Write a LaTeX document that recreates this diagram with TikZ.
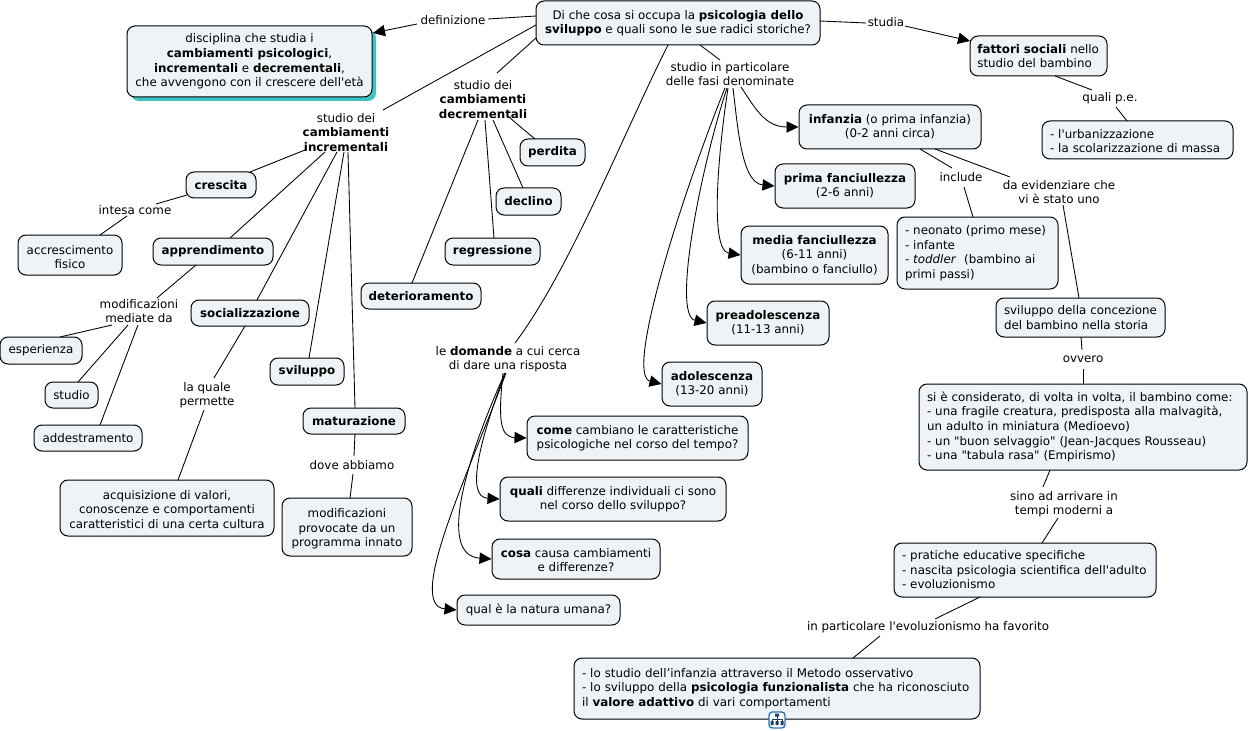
\documentclass[tikz,border=0pt]{standalone}
\usepackage{fontspec}
\setmainfont{DejaVu Sans}[Ligatures=TeXOff]
\usetikzlibrary{calc,arrows.meta,shadows}
\definecolor{boxfill}{HTML}{EDF3F6}
\definecolor{tealshade}{HTML}{3CC4C4}
\definecolor{iconblue}{HTML}{2F6FB5}
\definecolor{iconink}{HTML}{1F3F66}
\newcommand{\lowstrut}{\rule{0pt}{10pt}}
\newcommand{\midstrut}{\rule{0pt}{8.5pt}}
\tikzset{
  every node/.style={font=\fontsize{8.9}{10.9}\selectfont},
  box/.style={draw=black,line width=0.75pt,fill=boxfill,rounded corners=6pt,align=center,inner sep=0pt},
  lbox/.style={box,align=left,inner xsep=6pt,inner ysep=0pt},
  lab/.style={align=center,inner sep=0pt},
  link/.style={draw=black,line width=0.65pt},
  arr/.style={link,-{Triangle[length=9pt,width=8.5pt]}}
}
\begin{document}
\begin{tikzpicture}[x=0.75pt,y=-0.75pt]
\useasboundingbox (0,0) rectangle (1249,731);
% boxes
\node[box,minimum width=213pt,minimum height=33pt] (root) at (678,23) {Di che cosa si occupa la \textbf{psicologia dello}\\\textbf{sviluppo} e quali sono le sue radici storiche?};
\node[box,minimum width=183.75pt,minimum height=53.25pt,drop shadow={shadow xshift=3pt,shadow yshift=-3pt,opacity=1,fill=tealshade}] (def) at (249.5,61.5) {disciplina che studia i\\\textbf{cambiamenti psicologici},\\\textbf{incrementali} e \textbf{decrementali},\\che avvengono con il crescere dell'età};
\node[lbox,inner xsep=3pt,text width=96.75pt,minimum height=30pt] (fattori) at (1038.5,56) {\hspace{2.5pt}\textbf{fattori sociali} nello\\\hspace{2.5pt}studio del bambino};
\node[lbox,text width=131.25pt,minimum height=28.5pt] (urban) at (1137.5,140) {\midstrut- l'urbanizzazione\\- la scolarizzazione di massa};
\node[box,minimum width=136.5pt,minimum height=33pt] (infanzia) at (890,127) {\textbf{infanzia} (o prima infanzia)\\(0-2 anni circa)};
\node[box,minimum width=105pt,minimum height=33pt] (prima) at (845,186) {\textbf{prima fanciullezza}\\(2-6 anni)};
\node[box,minimum width=110.25pt,minimum height=43.5pt] (media) at (814.5,255) {\textbf{media fanciullezza}\\(6-11 anni)\\(bambino o fanciullo)};
\node[box,minimum width=91.5pt,minimum height=33pt] (pread) at (768,323) {\textbf{preadolescenza}\\(11-13 anni)};
\node[box,minimum width=75pt,minimum height=33pt] (adol) at (712,384) {\textbf{adolescenza}\\(13-20 anni)};
\node[lbox,text width=108.75pt,minimum height=54pt] (neonato) at (977.5,253) {- neonato (primo mese)\\- infante\\- \textit{toddler}\ \ (bambino ai\\primi passi)};
\node[lbox,text width=114.75pt,minimum height=29.25pt] (svil2) at (1080.5,317.5) {sviluppo della concezione\\del bambino nella storia};
\node[lbox,text width=234pt,minimum height=64.5pt] (si) at (1083,427) {si è considerato, di volta in volta, il bambino come:\\- una fragile creatura, predisposta alla malvagità,\\un adulto in miniatura (Medioevo)\\- un "buon selvaggio" (Jean-Jacques Rousseau)\\- una "tabula rasa" (Empirismo)};
\node[lbox,text width=184.5pt,minimum height=40.5pt] (pratiche) at (1025,570) {- pratiche educative specifiche\\- nascita psicologia scientifica dell'adulto\\- evoluzionismo};
\node[lbox,text width=292.5pt,minimum height=45.75pt] (lostudio) at (777,688.5) {- lo studio dell’infanzia attraverso il Metodo osservativo\\- lo sviluppo della \textbf{psicologia funzionalista} che ha riconosciuto\\il \textbf{valore adattivo} di vari comportamenti};
\node[box,minimum width=48.75pt,minimum height=20.25pt] (perdita) at (552.5,152.5) {\textbf{perdita}};
\node[box,minimum width=48.75pt,minimum height=20.25pt] (declino) at (528.5,201.5) {\textbf{declino}};
\node[box,minimum width=71.25pt,minimum height=20.25pt] (regress) at (492.5,251.5) {\textbf{regressione}};
\node[box,minimum width=90pt,minimum height=19.5pt] (deter) at (421,296) {\textbf{deterioramento}};
\node[box,minimum width=52.5pt,minimum height=19.5pt] (crescita) at (221,185) {\textbf{crescita}};
\node[box,minimum width=78pt,minimum height=30pt] (accresc) at (70,255) {\lowstrut accrescimento\\fisico};
\node[box,minimum width=90pt,minimum height=20.25pt] (apprend) at (213,251.5) {\textbf{apprendimento}};
\node[box,minimum width=61.5pt,minimum height=20.25pt] (esper) at (41,350.5) {esperienza};
\node[box,minimum width=39.75pt,minimum height=19.5pt] (studiob) at (71.5,395) {studio};
\node[box,minimum width=81pt,minimum height=19.5pt] (addestr) at (88,438) {addestramento};
\node[box,minimum width=88.5pt,minimum height=19.5pt] (socializ) at (250,313) {\textbf{socializzazione}};
\node[box,minimum width=160.5pt,minimum height=42pt] (acquis) at (167,508) {\midstrut acquisizione di valori,\\conoscenze e comportamenti\\caratteristici di una certa cultura};
\node[box,minimum width=55.5pt,minimum height=20.25pt] (svilb) at (307,371.5) {\textbf{sviluppo}};
\node[box,minimum width=76.5pt,minimum height=19.5pt] (matur) at (354,421) {\textbf{maturazione}};
\node[box,minimum width=97.5pt,minimum height=43.5pt] (modprov) at (347,527) {\lowstrut modificazioni\\provocate da un\\programma innato};
\node[box,minimum width=165.75pt,minimum height=33pt] (come) at (637.5,438) {\textbf{come} cambiano le caratteristiche\\psicologiche nel corso del tempo?};
\node[box,minimum width=169.5pt,minimum height=33pt] (quali) at (613,499) {\textbf{quali} differenze individuali ci sono\\nel corso dello sviluppo?};
\node[box,minimum width=126pt,minimum height=30pt] (cosa) at (576,559) {\midstrut\textbf{cosa} causa cambiamenti\\e differenze?};
\node[box,minimum width=122.25pt,minimum height=22.5pt] (qual) at (538.5,610) {qual è la natura umana?};
% labels
\node[lab] (ldef) at (453,20) {definizione};
\node[lab] (lstudia) at (886,22) {studia};
\node[lab] (lquali) at (1110,98) {quali p.e.};
\node[lab] (linclude) at (961,177) {include};
\node[lab] (lda) at (1059,190) {\lowstrut da evidenziare che\\vi è stato uno};
\node[lab] (lovv) at (1083,359) {ovvero};
\node[lab] (lsino) at (1064,502) {\lowstrut sino ad arrivare in\\tempi moderni a};
\node[lab] (lpart) at (928,627) {in particolare l'evoluzionismo ha favorito};
\node[lab] (lfasi) at (730,73) {\midstrut studio in particolare\\delle fasi denominate};
\node[lab] (ldecr) at (483,98) {\midstrut studio dei\\\textbf{cambiamenti}\\\textbf{decrementali}};
\node[lab] (lincr) at (346,131) {\midstrut studio dei\\\textbf{cambiamenti}\\\textbf{incrementali}};
\node[lab] (lintesa) at (135,210) {intesa come};
\node[lab] (lmod) at (139,309) {\lowstrut modificazioni\\mediate da};
\node[lab] (lqp) at (207,393) {\lowstrut la quale\\permette};
\node[lab] (ldove) at (352,465) {dove abbiamo};
\node[lab] (ldom) at (508,357) {\lowstrut le \textbf{domande} a cui cerca\\di dare una risposta};
% icon
\node[draw=iconblue,line width=1pt,fill=white,rounded corners=2.5pt,minimum width=12pt,minimum height=12pt,inner sep=0pt] (icon) at (777,720) {};
\draw[iconink,line width=0.4pt] (777,716) -- (777,721) (772,721) -- (772,719) -- (782,719) -- (782,721);
\fill[iconink] (775,713.5) rectangle (779,716.5) (770.5,721) rectangle (773.5,725) (775.5,721) rectangle (778.5,725) (780.5,721) rectangle (783.5,725);
% connectors
\draw[link] ($(root)+(-142,-7)$) -- ($(ldef)+(35,-1)$);
\draw[arr] ($(ldef)+(-36,4)$) -- ($(def)+(123.5,-28.5)$);
\draw[link] ($(root)+(142,-2)$) -- ($(lstudia)+(-20,1)$);
\draw[arr] ($(lstudia)+(19,4)$) -- ($(fattori)+(-68.5,-15)$);
\draw[link] ($(root)+(-142,2)$) -- ($(lincr)+(37,-21)$);
\draw[link] ($(root)+(-142,15)$) -- ($(ldecr)+(14,-25)$);
\draw[link] ($(root)+(-10,22)$) .. controls (625,130) and (570,270) .. ($(ldom)+(7,-14)$);
\draw[link] ($(root)+(22,22)$) -- ($(lfasi)+(-10,-13)$);
\draw[link] ($(ldecr)+(27,20)$) -- ($(perdita)+(-17.5,-13.5)$);
\draw[link] ($(ldecr)+(10,22)$) -- ($(declino)+(-5.5,-13.5)$);
\draw[link] ($(ldecr)+(2,22)$) -- ($(regress)+(1.5,-13.5)$);
\draw[link] ($(ldecr)+(-5,22)$) -- ($(deter)+(-9,-13)$);
\draw[link] ($(lincr)+(-41,19)$) -- ($(crescita)+(29,-13)$);
\draw[link] ($(lincr)+(-21,21)$) -- ($(apprend)+(17,-13.5)$);
\draw[link] ($(lincr)+(-9,21)$) -- ($(socializ)+(7,-13)$);
\draw[link] ($(lincr)+(-2,21)$) -- ($(svilb)+(2,-13.5)$);
\draw[link] ($(lincr)+(2,21)$) -- ($(matur)+(1,-13)$);
\draw[link] ($(crescita)+(-34,10)$) -- ($(lintesa)+(21,-6)$);
\draw[link] ($(lintesa)+(-8,6)$) -- ($(accresc)+(30,-20)$);
\draw[link] ($(apprend)+(-17,13.5)$) -- ($(lmod)+(18,-11)$);
\draw[link] ($(lmod)+(-27,16)$) -- ($(esper)+(19,-13.5)$);
\draw[link] ($(lmod)+(-11,16)$) -- ($(studiob)+(6.5,-13)$);
\draw[link] ($(lmod)+(-1,16)$) -- ($(addestr)+(12,-13)$);
\draw[link] ($(socializ)+(-5,13)$) -- ($(lqp)+(7,-15)$);
\draw[link] ($(lqp)+(-3,17)$) -- ($(acquis)+(11,-28)$);
\draw[link] ($(matur)+(1,13)$) -- ($(ldove)+(2,-9)$);
\draw[link] ($(ldove)+(1,9)$) -- ($(modprov)+(3,-29)$);
\draw[link] ($(fattori)+(16.5,20)$) -- ($(lquali)+(-18,-8)$);
\draw[link] ($(lquali)+(6,9)$) -- ($(urban)+(-10.5,-19)$);
\draw[link] ($(infanzia)+(30,22)$) -- ($(linclude)+(-9,-9)$);
\draw[link] ($(linclude)+(3,10)$) -- ($(neonato)+(-4.5,-36)$);
\draw[link] ($(infanzia)+(45,22)$) -- ($(lda)+(-49,-13)$);
\draw[link] ($(lda)+(4,15)$) -- ($(svil2)+(-1.5,-19.5)$);
\draw[link] ($(svil2)+(0.5,19.5)$) -- ($(lovv)+(-1,-9)$);
\draw[link] ($(lovv)+(0,10)$) -- ($(si)+(0,-43)$);
\draw[link] ($(si)+(-33,43)$) -- ($(lsino)+(-21,-15)$);
\draw[link] ($(lsino)+(-6,16)$) -- ($(pratiche)+(17,-27)$);
\draw[link] ($(pratiche)+(-45,27)$) -- ($(lpart)+(7,-8)$);
\draw[link] ($(lpart)+(-48,9)$) -- ($(lostudio)+(76,-30.5)$);
% curved arrows
\draw[arr] ($(lfasi)+(11,14)$) .. controls (755,108) and (765,127) .. (infanzia.west);
\draw[arr] ($(lfasi)+(3,15)$) .. controls (738,130) and (742,183) .. (prima.west);
\draw[arr] ($(lfasi)+(-2,15)$) .. controls (720,140) and (708,250) .. (media.west);
\draw[arr] ($(lfasi)+(-3,15)$) .. controls (700,170) and (672,315) .. (pread.west);
\draw[arr] ($(lfasi)+(-5,15)$) .. controls (680,200) and (625,375) .. (adol.west);
\draw[arr] ($(ldom)+(-5,16)$) .. controls (498,420) and (500,437) .. (come.west);
\draw[arr] ($(ldom)+(-3,16)$) .. controls (480,440) and (465,497) .. (quali.west);
\draw[arr] ($(ldom)+(-3,16)$) .. controls (470,450) and (435,555) .. (cosa.west);
\draw[arr] ($(ldom)+(-2,16)$) .. controls (470,470) and (405,605) .. (qual.west);
\end{tikzpicture}
\end{document}
